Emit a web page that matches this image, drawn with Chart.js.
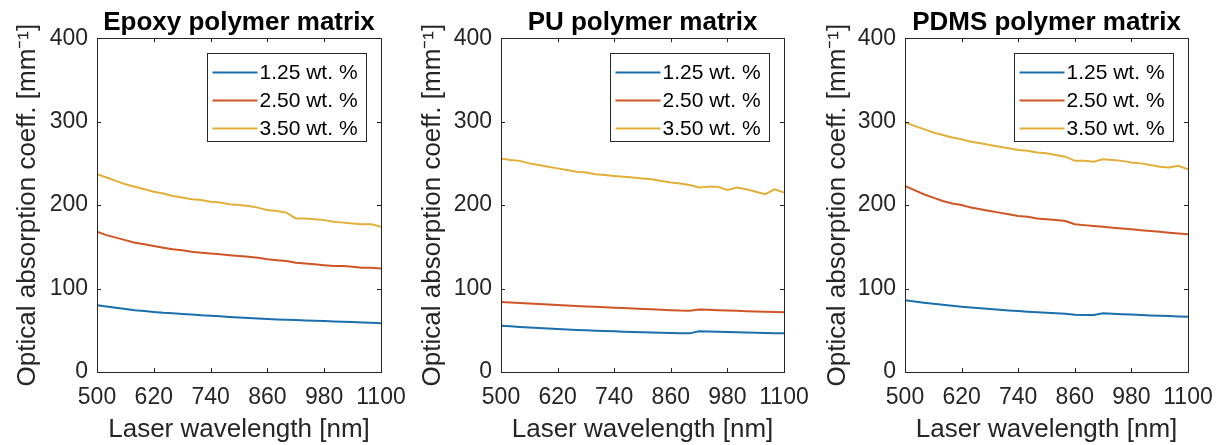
<!DOCTYPE html>
<html>
<head>
<meta charset="utf-8">
<script src="https://cdn.jsdelivr.net/npm/chart.js@4.4.1/dist/chart.umd.min.js"></script>
<style>
  html, body { margin: 0; padding: 0; background: #fff; }
  #wrap { position: relative; width: 1220px; height: 445px; overflow: hidden; }
  canvas { position: absolute; top: 0; }
</style>
</head>
<body>
<div id="wrap"></div>
<script>
// wavelength samples [nm]
const wavelength = [500, 520, 540, 560, 580, 600, 620, 640, 660, 680, 700, 720, 740, 760, 780, 800,
                    820, 840, 860, 880, 900, 920, 940, 960, 980, 1000, 1020, 1040, 1060, 1080, 1100];

const seriesLabels = ["1.25 wt. %", "2.50 wt. %", "3.50 wt. %"];
const seriesColors = ["#1A6FAD", "#CF5526", "#E2B03A"];
const panelTitles = ["Epoxy polymer matrix", "PU polymer matrix", "PDMS polymer matrix"];

const xTicks = [500, 620, 740, 860, 980, 1100];
const yTicks = [0, 100, 200, 300, 400];

// Epoxy
const epoxy125 = [80, 78.5, 77, 75.5, 74, 73, 72, 71, 70.3, 69.5, 68.8, 68, 67.5, 66.7, 66, 65.3,
                  64.8, 64.2, 63.5, 63, 62.6, 62.2, 61.8, 61.4, 61, 60.6, 60.2, 59.8, 59.4, 59, 58.5];
const epoxy250 = [168, 164, 161, 158, 155, 153, 151, 149, 147, 146, 144, 143, 142, 141, 140, 139,
                  138, 137, 135, 134, 133, 131, 130, 129, 128, 127, 127, 126, 125, 125, 124];
const epoxy350 = [237, 233, 229, 225, 222, 219, 216, 214, 211, 209, 207, 206, 204, 203, 201, 200,
                  199, 197, 194, 193, 191, 184, 184, 183, 182, 180, 179, 178, 177, 177, 174];

// PU
const pu125 = [55.5, 54.8, 54, 53.3, 52.6, 52, 51.4, 50.9, 50.4, 49.9, 49.5, 49.1, 48.7, 48.3, 47.9, 47.5,
               47.2, 46.9, 46.6, 46.4, 46.3, 48.8, 48.5, 48.2, 47.9, 47.6, 47.3, 47, 46.8, 46.5, 46.3];
const pu250 = [84, 83.3, 82.7, 82, 81.4, 80.8, 80.3, 79.7, 79.2, 78.6, 78.1, 77.6, 77.1, 76.6, 76.1, 75.6,
               75.1, 74.6, 74.1, 73.6, 73.5, 74.8, 74.5, 74.1, 73.7, 73.3, 72.9, 72.5, 72.1, 71.8, 71.5];
const pu350 = [256, 254, 253, 250, 248, 246, 244, 242, 240, 239, 237, 236, 235, 234, 233, 232,
               231, 229, 227, 226, 224, 221, 222, 222, 218, 221, 219, 216, 213, 219, 215];

// PDMS
const pdms125 = [86, 84.5, 83, 81.7, 80.5, 79.3, 78.2, 77.2, 76.3, 75.4, 74.6, 73.8, 73, 72.3, 71.6, 71,
                 70.3, 69.7, 68.5, 68.3, 68.2, 70.3, 69.8, 69.3, 68.8, 68.3, 67.8, 67.4, 67, 66.6, 66.2];
const pdms250 = [223, 218, 213, 209, 205, 202, 200, 197, 195, 193, 191, 189, 187, 186, 184, 183,
                 182, 181, 177, 176, 175, 174, 173, 172, 171, 170, 169, 168, 167, 166, 165];
const pdms350 = [299, 295, 291, 287, 284, 281, 279, 276, 274, 272, 270, 268, 266, 265, 263, 262,
                 260, 258, 253, 253, 252, 255, 254, 253, 251, 250, 248, 246, 245, 247, 243];

const panelSeries = [
  [epoxy125, epoxy250, epoxy350],
  [pu125, pu250, pu350],
  [pdms125, pdms250, pdms350]
];

// canvas placement and axis box sizes per panel
const layouts = [
  { left: 0,   width: 410, yWidth: 97, right: 29 },
  { left: 405, width: 410, yWidth: 96, right: 31 },
  { left: 810, width: 410, yWidth: 95, right: 32 }
];

const FONT = "'Liberation Sans', Arial, Helvetica, sans-serif";
const AXIS_COLOR = "#262626";

// MATLAB-like box: frame, inward ticks on all sides, legend in the upper right
const boxPlugin = {
  id: "boxPlugin",
  afterDraw(chart) {
    const ctx = chart.ctx;
    const a = chart.chartArea;
    const xs = chart.scales.x;
    const ys = chart.scales.y;
    const tl = 4;

    ctx.save();
    ctx.strokeStyle = AXIS_COLOR;
    ctx.lineWidth = 1;
    ctx.beginPath();
    xTicks.forEach(v => {
      const px = Math.round(xs.getPixelForValue(v)) + 0.5;
      ctx.moveTo(px, a.bottom); ctx.lineTo(px, a.bottom - tl);
      ctx.moveTo(px, a.top); ctx.lineTo(px, a.top + tl);
    });
    yTicks.forEach(v => {
      const py = Math.round(ys.getPixelForValue(v)) + 0.5;
      ctx.moveTo(a.left, py); ctx.lineTo(a.left + tl, py);
      ctx.moveTo(a.right, py); ctx.lineTo(a.right - tl, py);
    });
    ctx.stroke();
    ctx.strokeRect(Math.round(a.left) + 0.5, Math.round(a.top) + 0.5,
                   Math.round(a.right - a.left), Math.round(a.bottom - a.top));

    // legend
    const lw = 159, lh = 88;
    const lx = Math.round(a.right - 15 - lw) + 0.5;
    const ly = Math.round(a.top + 15) + 0.5;
    ctx.fillStyle = "#fff";
    ctx.fillRect(lx, ly, lw, lh);
    ctx.strokeStyle = AXIS_COLOR;
    ctx.strokeRect(lx, ly, lw, lh);
    ctx.font = "21px " + FONT;
    ctx.textBaseline = "middle";
    ctx.textAlign = "left";
    chart.data.datasets.forEach((ds, i) => {
      const cy = ly + 19 + i * 28;
      ctx.strokeStyle = ds.borderColor;
      ctx.lineWidth = 2;
      ctx.beginPath();
      ctx.moveTo(lx + 5, cy); ctx.lineTo(lx + 50, cy);
      ctx.stroke();
      ctx.fillStyle = "#000";
      ctx.fillText(ds.label, lx + 52, cy + 1);
    });
    ctx.restore();
  }
};

const wrap = document.getElementById("wrap");

panelTitles.forEach((title, p) => {
  const L = layouts[p];
  const canvas = document.createElement("canvas");
  canvas.width = L.width;
  canvas.height = 445;
  canvas.style.left = L.left + "px";
  canvas.style.width = L.width + "px";
  canvas.style.height = "445px";
  wrap.appendChild(canvas);

  const datasets = panelSeries[p].map((vals, i) => ({
    label: seriesLabels[i],
    data: wavelength.map((w, k) => ({ x: w, y: vals[k] })),
    borderColor: seriesColors[i],
    borderWidth: 2,
    pointRadius: 0,
    tension: 0,
    fill: false
  }));

  new Chart(canvas, {
    type: "line",
    data: { datasets },
    options: {
      responsive: false,
      animation: false,
      devicePixelRatio: 1,
      layout: { padding: { left: 0, right: L.right, top: 0, bottom: 0 } },
      plugins: {
        legend: { display: false },
        tooltip: { enabled: false },
        title: {
          display: true,
          text: title,
          fullSize: false,
          color: "#000",
          font: { family: FONT, size: 26, weight: "bold" },
          padding: { top: 7, bottom: 0 }
        }
      },
      scales: {
        x: {
          type: "linear",
          min: 500,
          max: 1100,
          afterBuildTicks: s => { s.ticks = xTicks.map(v => ({ value: v })); },
          afterFit: s => { s.height = 73; s.paddingLeft = 0; s.paddingRight = 0; },
          grid: { display: false, drawTicks: false },
          border: { display: false },
          ticks: {
            color: AXIS_COLOR,
            font: { family: FONT, size: 23 },
            padding: 12,
            maxRotation: 0,
            autoSkip: false,
            callback: v => String(v)
          },
          title: {
            display: true,
            text: "Laser wavelength [nm]",
            color: AXIS_COLOR,
            font: { family: FONT, size: 26 },
            padding: { top: 0, bottom: 0 }
          }
        },
        y: {
          type: "linear",
          min: 0,
          max: 400,
          afterBuildTicks: s => { s.ticks = yTicks.map(v => ({ value: v })); },
          afterFit: s => { s.width = L.yWidth; s.paddingTop = 0; s.paddingBottom = 0; },
          grid: { display: false, drawTicks: false },
          border: { display: false },
          ticks: {
            color: AXIS_COLOR,
            font: { family: FONT, size: 23 },
            padding: 9,
            callback: v => String(v)
          },
          title: {
            display: true,
            text: "Optical absorption coeff. [mm\u207B\u00B9]",
            color: AXIS_COLOR,
            font: { family: FONT, size: 26 },
            padding: { top: 12, bottom: 0 }
          }
        }
      }
    },
    plugins: [boxPlugin]
  });
});
</script>
</body>
</html>
